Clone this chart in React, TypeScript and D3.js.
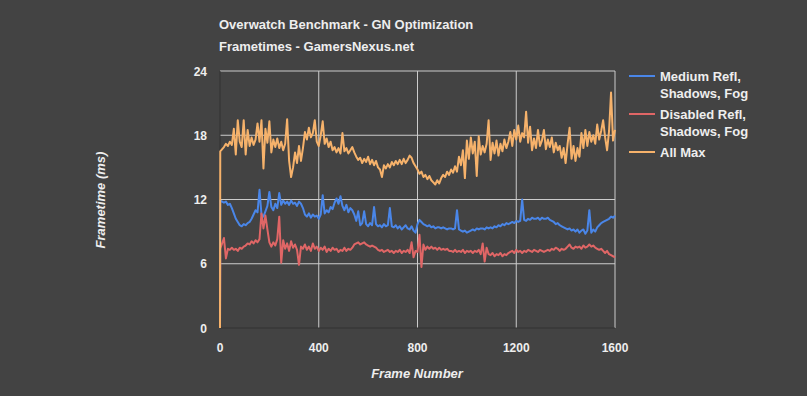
import React from 'react';
import * as d3 from 'd3';

// frametime samples (ms), one every FRAME_STEP frames
const FRAME_STEP = 8;

const mediumRefl = [
  0, 11.9, 11.7, 11.8, 11.5, 11.6, 11.2, 10.7, 10.2, 9.9,
  9.6, 9.5, 9.7, 9.6, 9.8, 9.9, 10.2, 10.6, 11.0, 10.8,
  12.9, 10.6, 10.4, 10.9, 11.4, 12.7, 11.3, 11.0, 11.6, 11.2,
  12.6, 11.5, 11.9, 11.6, 11.8, 11.5, 11.9, 11.6, 11.7, 11.4,
  11.8, 11.6, 11.2, 10.6, 10.4, 10.7, 10.3, 10.6, 10.4, 10.5,
  10.2, 10.6, 12.4, 10.7, 11.0, 10.8, 11.3, 11.1, 11.7, 12.1,
  11.6, 12.3, 11.4, 11.0, 11.5, 10.8, 11.2, 11.0, 10.6, 10.0,
  10.9, 9.6, 9.8, 10.9, 9.7, 9.5, 9.8, 9.6, 11.3, 9.7,
  9.5, 9.6, 9.4, 9.7, 9.5, 9.6, 11.2, 9.5, 9.4, 9.6,
  9.3, 9.5, 9.2, 9.4, 9.6, 9.3, 9.2, 9.5, 9.1, 8.9,
  9.7, 10.1, 9.9, 9.7, 9.6, 9.5, 9.6, 9.4, 9.5, 9.3,
  9.4, 9.4, 9.3, 9.4, 9.3, 9.2, 9.3, 9.3, 9.2, 9.3,
  11.0, 9.2, 9.1, 9.0, 9.1, 8.9, 9.0, 9.1, 9.2, 9.1,
  9.3, 9.2, 9.3, 9.3, 9.2, 9.4, 9.3, 9.4, 9.3, 9.5,
  9.4, 9.6, 9.5, 9.7, 9.6, 9.8, 9.7, 9.8, 9.9, 9.8,
  10.0, 9.9, 10.0, 12.0, 10.1, 10.0, 10.2, 10.1, 10.3, 10.2,
  10.2, 10.3, 10.1, 10.3, 10.2, 10.2, 10.3, 10.1, 10.0, 9.9,
  9.7, 9.8, 9.6, 9.5, 9.4, 9.3, 9.2, 9.3, 9.1, 9.2,
  9.0, 9.2, 8.9, 9.1, 9.2, 8.8, 9.1, 11.0, 8.9, 9.2,
  9.0, 9.4, 9.6, 9.8, 9.9, 10.0, 10.1, 10.2, 10.4, 10.3,
  10.5,
];

const disabledRefl = [
  0, 7.4, 8.4, 6.5, 7.4, 7.3, 7.5, 7.3, 7.4, 7.2,
  7.5, 7.4, 7.6, 7.7, 7.9, 7.8, 8.1, 7.9, 8.2, 8.0,
  8.3, 10.7, 9.3, 10.5, 9.2, 8.0, 7.6, 8.0, 7.7, 8.3,
  10.4, 6.1, 8.2, 7.4, 7.9, 7.2, 8.1, 7.5, 7.8, 7.3,
  5.9, 7.6, 7.4, 7.8, 7.3, 7.6, 7.2, 7.9, 7.4, 7.6,
  7.2, 7.5, 7.3, 7.6, 7.1, 7.4, 7.2, 7.5, 7.3, 7.4,
  7.1, 7.3, 7.2, 7.5, 7.2, 7.4, 7.3, 7.5, 7.8, 7.9,
  8.0, 7.8, 7.9, 8.0, 7.8, 7.7, 7.6, 7.7, 7.6, 7.5,
  7.3, 7.2, 7.3, 7.1, 7.2, 7.3, 7.1, 7.2, 7.0, 7.2,
  7.1, 7.3, 7.0, 7.2, 7.1, 7.3, 7.0, 8.0, 6.6, 7.2,
  7.1, 8.7, 5.7, 7.8, 7.3, 7.6, 7.4, 7.6, 7.4, 7.5,
  7.3, 7.5, 7.3, 7.4, 7.3, 7.4, 7.2, 7.2, 7.1, 7.3,
  7.1, 7.2, 7.1, 7.3, 7.0, 7.2, 7.1, 7.2, 7.0, 7.2,
  7.1, 7.3, 6.9, 7.9, 6.2, 7.5, 6.9, 6.8, 7.0, 6.7,
  6.9, 6.8, 7.0, 6.7, 6.9, 6.8, 7.0, 7.1, 7.2, 7.0,
  7.3, 7.1, 7.2, 7.0, 7.2, 7.1, 7.3, 7.2, 7.1, 7.3,
  7.2, 7.1, 7.3, 7.2, 7.1, 7.2, 7.3, 7.2, 7.4, 7.3,
  7.5, 7.4, 7.2, 7.4, 7.3, 7.4, 7.6, 7.8, 7.5, 7.4,
  7.6, 7.5, 7.6, 7.4, 7.7, 7.5, 7.6, 7.8, 7.6, 7.7,
  7.5, 7.4, 7.3, 7.4, 7.2, 7.0, 7.2, 6.9, 6.8, 6.7,
  6.6,
];

const allMax = [
  0, 16.5, 16.9, 17.2, 17.0, 17.4, 17.1, 18.6, 16.2, 19.4,
  17.4, 16.9, 19.4, 16.2, 18.5, 17.0, 17.8, 17.1, 17.6, 19.1,
  17.4, 19.4, 14.9, 18.6, 17.3, 19.3, 16.4, 17.6, 16.9, 17.7,
  16.8, 17.4, 16.6, 17.2, 19.5, 15.6, 14.1, 15.0, 16.4, 15.4,
  17.0, 15.6, 16.8, 18.3, 17.6, 18.7, 17.8, 18.2, 19.4, 17.4,
  17.0, 18.0, 19.3, 17.2, 17.7, 16.9, 17.4, 16.6, 16.9, 16.4,
  16.8, 16.3, 18.2, 16.5, 16.8, 16.3, 16.6, 16.9, 16.4, 16.0,
  15.7, 15.9, 15.4, 15.8, 15.5, 16.0, 15.3, 15.7, 15.2, 15.6,
  15.0, 14.8, 14.1, 15.2, 14.9, 15.3, 15.0, 15.5, 15.2, 15.6,
  15.3, 15.7, 15.3, 15.8, 15.4, 15.7, 16.1, 15.9, 15.4, 15.1,
  14.8, 14.4, 14.6, 14.1, 14.3, 13.9, 14.2, 13.8, 13.6, 13.4,
  13.8, 13.5, 14.0, 14.3, 14.1, 14.6, 14.3, 14.8, 14.5, 15.1,
  14.6, 16.0, 15.2, 16.6, 14.0, 17.5, 15.8, 17.8, 16.3, 17.4,
  14.2, 17.9, 16.2, 17.0, 16.4, 17.2, 19.4, 15.7, 17.3, 16.3,
  17.5, 16.1, 17.2, 16.5, 17.6, 16.8, 17.4, 18.3, 17.0, 18.5,
  17.6, 18.9, 17.4, 18.2, 17.8, 20.2, 17.3, 18.8, 16.6, 17.7,
  16.8, 18.5, 17.0, 17.5, 18.5, 16.7, 17.6, 16.9, 17.8, 16.4,
  17.3, 16.6, 17.0, 15.9, 16.8, 15.4, 17.2, 18.7, 15.8, 17.0,
  15.6, 16.8, 16.0, 18.2, 16.8, 18.5, 17.0, 18.3, 17.4, 18.0,
  17.2, 19.0, 17.6, 18.4, 19.4, 17.8, 16.6, 18.4, 22.0, 17.5,
  18.5,
];

const seriesNames = [
  ['Medium Refl,', 'Shadows, Fog'],
  ['Disabled Refl,', 'Shadows, Fog'],
  ['All Max'],
];
const seriesColors = ['#4a86e8', '#e06666', '#f6b26b'];
const xTicks = [0, 400, 800, 1200, 1600];
const yTicks = [0, 6, 12, 18, 24];

const W = 807;
const H = 396;
const FONT = '"Liberation Sans", Arial, sans-serif';
const TEXT = '#eeeeee';

// sample 0 is the frame-0 reading, the first real sample lands on frame 1
const frameOf = (i: number) => (i === 0 ? 0 : i === 1 ? 1 : i * FRAME_STEP);

export default function App() {
  const x = d3.scaleLinear().domain([0, 1600]).range([220, 615]);
  const y = d3.scaleLinear().domain([0, 24]).range([328, 71]);

  const line = d3
    .line<number>()
    .x((_, i) => x(frameOf(i)))
    .y((d) => y(d));

  const series = [mediumRefl, disabledRefl, allMax];
  const legendY = [76, 114, 152];

  return (
    <svg
      width={W}
      height={H}
      style={{ position: 'absolute', left: 0, top: 0, background: '#434343' }}
      fontFamily={FONT}
    >
      <rect width={W} height={H} fill="#434343" />

      <text x={219} y={29} fill={TEXT} fontSize={13} fontWeight="bold">
        Overwatch Benchmark - GN Optimization
      </text>
      <text x={219} y={51} fill={TEXT} fontSize={13} fontWeight="bold">
        Frametimes - GamersNexus.net
      </text>

      {/* gridlines */}
      {yTicks.filter((t) => t > 0).map((t) => (
        <line key={'gy' + t} x1={x(0)} x2={x(1600)} y1={y(t)} y2={y(t)} stroke="#cccccc" strokeWidth={1} />
      ))}
      {xTicks.filter((t) => t > 0).map((t) => (
        <line key={'gx' + t} x1={x(t)} x2={x(t)} y1={y(24)} y2={y(0)} stroke="#cccccc" strokeWidth={1} />
      ))}
      <line x1={x(0)} x2={x(0)} y1={y(24)} y2={y(0)} stroke="#333333" strokeWidth={1} />
      <line x1={x(0)} x2={x(1600)} y1={y(0)} y2={y(0)} stroke="#333333" strokeWidth={1} />

      {/* tick labels */}
      {yTicks.map((t) => (
        <text key={'ty' + t} x={207} y={y(t) + 4.5} fill={TEXT} fontSize={12} fontWeight="bold" textAnchor="end">
          {t}
        </text>
      ))}
      {xTicks.map((t) => (
        <text key={'tx' + t} x={x(t)} y={352} fill={TEXT} fontSize={12} fontWeight="bold" textAnchor="middle">
          {t}
        </text>
      ))}

      <text x={417} y={378} fill={TEXT} fontSize={13} fontWeight="bold" fontStyle="italic" textAnchor="middle">
        Frame Number
      </text>
      <text
        transform={`translate(105, 200) rotate(-90)`}
        fill={TEXT}
        fontSize={13}
        fontWeight="bold"
        fontStyle="italic"
        textAnchor="middle"
      >
        Frametime (ms)
      </text>

      {/* series */}
      {series.map((s, i) => (
        <path
          key={'s' + i}
          d={line(s) || ''}
          fill="none"
          stroke={seriesColors[i]}
          strokeWidth={2}
          strokeLinejoin="round"
        />
      ))}

      {/* legend */}
      {seriesNames.map((lines, i) => (
        <g key={'lg' + i}>
          <line x1={629} x2={655} y1={legendY[i]} y2={legendY[i]} stroke={seriesColors[i]} strokeWidth={2} />
          {lines.map((l, j) => (
            <text
              key={j}
              x={660}
              y={legendY[i] + 5 + j * 17}
              fill={TEXT}
              fontSize={13}
              fontWeight="bold"
            >
              {l}
            </text>
          ))}
        </g>
      ))}
    </svg>
  );
}
